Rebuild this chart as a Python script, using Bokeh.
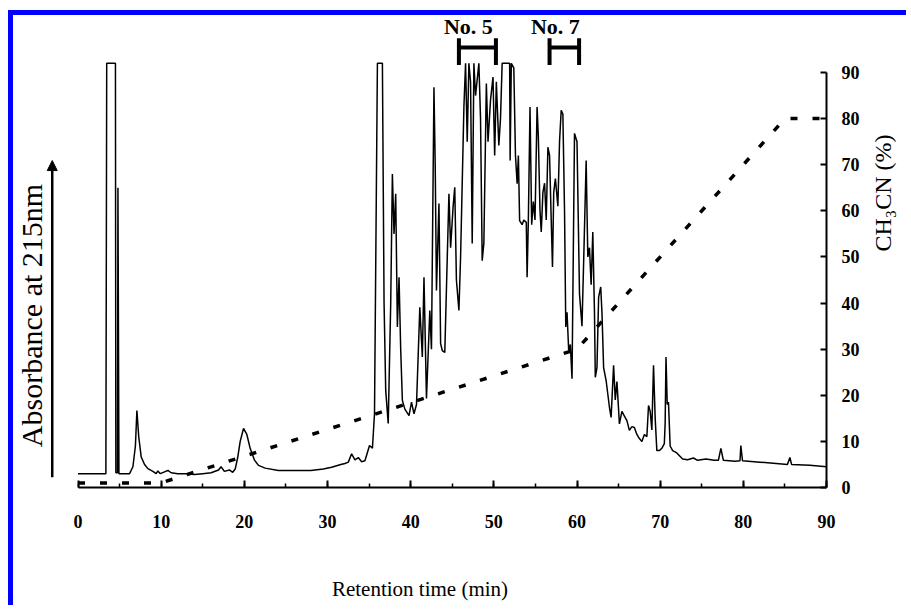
import math
from bokeh.plotting import figure
from bokeh.models import (LinearAxis, Range1d, SingleIntervalTicker, Label, Arrow,
                          NormalHead)
from bokeh.core.properties import value
from bokeh.embed import file_html
from bokeh.resources import INLINE

# ---------------- data ----------------
time_min = [0.0, 3.35, 3.45, 4.45, 4.5, 4.55, 4.75, 4.8, 4.85, 4.92,
            6.2, 6.6, 6.9, 7.08, 7.3, 7.6, 8.0, 8.4, 9.0, 9.4, 9.6, 9.9,
            10.4, 10.8, 11.2, 12.0, 13.0, 14.0, 15.0, 16.0, 16.9, 17.2, 17.6,
            18.2, 18.6, 18.9, 19.2, 19.5, 19.9, 20.3, 20.7, 21.2, 21.7, 22.5,
            24.1, 26.0, 28.0, 29.5, 30.5, 31.6, 32.1, 32.5, 32.9, 33.3, 33.7,
            34.1, 34.5, 35.05, 35.4, 35.65, 36.0, 36.6, 36.8, 37.0, 37.3, 37.6,
            37.8, 38.0, 38.2, 38.4, 38.6, 38.8, 39.0, 39.3, 39.8, 40.1, 40.4,
            40.7, 41.1, 41.4, 41.6, 41.9, 42.3, 42.5, 42.8, 42.95, 43.1, 43.4,
            43.6, 43.8, 44.1, 44.6, 44.8, 45.1, 45.3, 45.5, 45.8, 46.0, 46.4,
            46.6, 46.8, 47.0, 47.2, 47.4, 47.6, 47.8, 48.2, 48.4, 48.6, 48.8,
            49.1, 49.3, 49.6, 49.9, 50.1, 50.3, 50.6, 50.8, 51.0, 51.9, 51.96,
            52.1, 52.4, 52.6, 52.8, 52.95, 53.1, 53.4, 53.6, 53.9, 54.0, 54.15,
            54.35, 54.55, 54.75, 54.95, 55.2, 55.35, 55.55, 55.7, 55.9, 56.1,
            56.3, 56.5, 56.7, 56.9, 57.05, 57.2, 57.4, 57.7, 57.9, 58.1, 58.3,
            58.5, 58.65, 58.8, 59.0, 59.2, 59.4, 59.7, 60.0, 60.3, 60.6, 60.8,
            61.1, 61.3, 61.5, 61.7, 61.9, 62.1, 62.2, 62.4, 62.6, 62.85, 63.0,
            63.2, 63.5, 63.9, 64.1, 64.4, 64.6, 64.8, 65.1, 65.4, 65.7, 66.0,
            66.3, 66.6, 66.9, 67.2, 67.5, 67.8, 68.1, 68.4, 68.6, 68.8, 69.0,
            69.2, 69.4, 69.6, 69.9, 70.2, 70.5, 70.6, 70.7, 70.85, 71.0, 71.2,
            71.5, 72.0, 72.7, 73.3, 74.0, 74.5, 75.5, 76.5, 77.0, 77.3, 77.6,
            79.0, 79.6, 79.7, 79.9, 82.0, 85.3, 85.6, 85.8, 88.0, 90.0]
absorbance = [3.0, 3.0, 92.0, 92.0, 92.0, 3.2, 3.2, 65.0, 40.0, 3.0,
              3.0, 4.5, 9.0, 16.7, 11.0, 6.6, 5.0, 4.1, 3.5, 3.0, 3.6, 3.0,
              3.4, 3.7, 3.2, 3.0, 3.0, 2.8, 3.0, 3.2, 3.8, 4.5, 3.5,
              3.8, 3.3, 4.0, 6.5, 10.0, 12.8, 11.5, 8.5, 6.0, 4.8, 4.2,
              3.7, 3.7, 3.7, 4.0, 4.4, 5.0, 5.2, 5.5, 7.3, 6.0, 6.5,
              5.6, 5.8, 9.1, 8.5, 16.0, 92.0, 92.0, 40.0, 21.0, 13.9, 40.0,
              68.0, 55.0, 63.7, 34.8, 45.6, 30.0, 18.9, 17.0, 15.6, 18.5, 16.0,
              18.0, 39.1, 28.3, 45.6, 19.3, 38.4, 30.0, 86.8, 70.0, 42.7, 61.6,
              31.2, 29.7, 29.3, 63.7, 52.0, 60.8, 65.1, 45.0, 38.4, 49.9, 82.5,
              92.0, 75.0, 92.0, 88.0, 52.9, 92.0, 85.0, 92.0, 80.0, 49.2, 53.0,
              87.6, 75.0, 84.0, 89.0, 72.0, 88.0, 74.2, 80.0, 92.0, 92.0, 70.9,
              92.0, 91.0, 72.0, 65.9, 72.0, 57.9, 57.0, 58.0, 57.5, 45.6, 58.0,
              82.5, 57.0, 62.0, 58.0, 82.5, 76.0, 60.0, 55.4, 64.0, 66.0,
              58.0, 73.8, 72.0, 58.0, 47.8, 64.0, 67.0, 61.0, 75.0, 81.8, 81.0,
              60.0, 34.8, 38.0, 29.7, 31.0, 23.6, 76.8, 75.0, 42.0, 35.0, 49.0,
              70.9, 50.0, 52.0, 44.0, 55.4, 38.0, 23.9, 26.0, 41.3, 43.5, 38.0,
              26.0, 23.2, 17.4, 15.2, 26.5, 19.0, 23.0, 13.8, 16.5, 15.5, 14.5,
              12.4, 13.2, 13.0, 11.5, 10.6, 10.0, 11.5, 11.0, 17.8, 16.5, 12.5,
              26.5, 15.0, 8.0, 8.0, 8.5, 9.5, 14.0, 28.3, 18.0, 18.5, 9.0,
              8.0, 7.5, 6.2, 6.0, 6.4, 5.9, 6.2, 5.9, 5.9, 8.5, 5.9,
              5.7, 5.8, 9.1, 5.8, 5.5, 5.0, 6.5, 5.0, 4.8, 4.5]

# CH3CN gradient program (breakpoints)
gradient_time = [0, 10, 60, 85, 90]
gradient_ch3cn = [1, 1, 30, 80, 80]

# collected fractions
fraction_labels = ["No. 5", "No. 7"]
fraction_start = [45.8, 56.7]
fraction_end = [50.25, 60.25]

x_ticks_interval = 10
y_ticks_interval = 10

SERIF = "Liberation Serif"

# ---------------- figure ----------------
p = figure(width=898, height=595, output_backend="svg", toolbar_location=None,
           x_range=Range1d(-7.758, 90), y_range=Range1d(0, 102.36),
           x_axis_location=None, y_axis_location=None,
           min_border_left=0, min_border_top=0, min_border_right=79,
           min_border_bottom=123)
p.styles = {"margin-left": "8px", "margin-top": "10px",
            "border-left": "5px solid #0000ff", "border-top": "5px solid #0000ff"}
p.outline_line_color = None
p.background_fill_color = "white"
p.border_fill_color = "white"
for g in p.grid:
    g.visible = False

# bottom axis
xaxis = LinearAxis(ticker=SingleIntervalTicker(interval=x_ticks_interval, num_minor_ticks=2),
                   bounds=(0, 90))
xaxis.axis_line_width = 2
xaxis.axis_line_color = "black"
xaxis.major_tick_in = 7
xaxis.major_tick_out = 0
xaxis.major_tick_line_width = 2
xaxis.minor_tick_in = 4
xaxis.minor_tick_out = 0
xaxis.minor_tick_line_width = 1.5
xaxis.major_label_standoff = 27
xaxis.major_label_text_font = SERIF
xaxis.major_label_text_font_style = "bold"
xaxis.major_label_text_font_size = "18px"
xaxis.major_label_text_color = "black"
xaxis.axis_label = "Retention time (min)"
xaxis.axis_label_text_font = SERIF
xaxis.axis_label_text_font_style = "normal"
xaxis.axis_label_text_font_size = "21px"
xaxis.axis_label_text_color = "black"
xaxis.axis_label_standoff = 46
p.add_layout(xaxis, "below")

# right axis
yaxis = LinearAxis(ticker=SingleIntervalTicker(interval=y_ticks_interval), bounds=(0, 90))
yaxis.axis_line_width = 2
yaxis.axis_line_color = "black"
yaxis.major_tick_in = 6
yaxis.major_tick_out = 0
yaxis.major_tick_line_width = 2
yaxis.minor_tick_line_color = None
yaxis.major_label_standoff = 11
yaxis.major_label_text_font = SERIF
yaxis.major_label_text_font_style = "bold"
yaxis.major_label_text_font_size = "18px"
yaxis.major_label_text_color = "black"
yaxis.axis_label = "CH\u2083CN (%)"
yaxis.axis_label_text_font = SERIF
yaxis.axis_label_text_font_style = "normal"
yaxis.axis_label_text_font_size = "24px"
yaxis.axis_label_text_color = "black"
yaxis.axis_label_standoff = 20
yaxis.axis_label_orientation = math.pi / 2
p.add_layout(yaxis, "right")

# chromatogram
p.line(time_min, absorbance, line_color="black", line_width=1.5)

# gradient (dashed)
p.line(gradient_time, gradient_ch3cn, line_color="black", line_width=3.5,
       line_dash="7 15")

# fraction brackets
bar_y = 95.4
cap_lo, cap_hi = 91.6, 97.4
p.segment(x0=fraction_start, y0=[bar_y] * 2, x1=fraction_end, y1=[bar_y] * 2,
          line_color="black", line_width=4)
p.segment(x0=fraction_start, y0=[cap_lo] * 2, x1=fraction_start, y1=[cap_hi] * 2,
          line_color="black", line_width=4)
p.segment(x0=fraction_end, y0=[cap_lo] * 2, x1=fraction_end, y1=[cap_hi] * 2,
          line_color="black", line_width=4)
mid = [(a + b) / 2 for a, b in zip(fraction_start, fraction_end)]
p.text(x=mid, y=[99.9] * 2, text=fraction_labels, x_offset=-9,
       text_font=value(SERIF), text_font_style="bold", text_font_size="22px",
       text_align="center", text_baseline="alphabetic", text_color="black")

# left: absorbance label with arrow
p.add_layout(Label(x=-5.6, y=37.3, text="Absorbance at 215nm", angle=math.pi / 2,
                   angle_units="rad", text_align="center", text_baseline="middle",
                   text_font=SERIF, text_font_size="30px", text_color="black"))
p.add_layout(Arrow(end=NormalHead(size=10, fill_color="black", line_color="black"),
                   x_start=-3.1, y_start=2.2, x_end=-3.1, y_end=70.9,
                   line_width=2.5, line_color="black"))

open("out.html", "w").write(file_html(p, INLINE))
